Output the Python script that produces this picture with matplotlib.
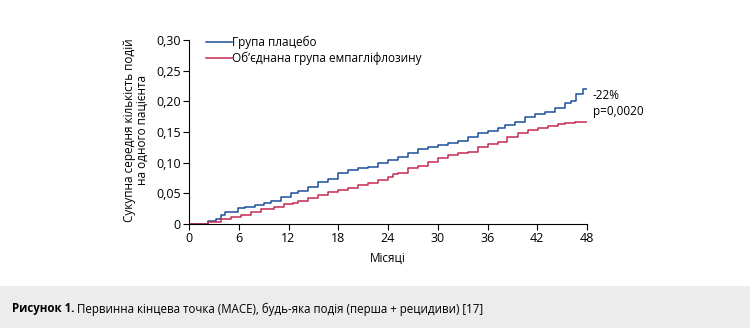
import numpy as np
import matplotlib.pyplot as plt
from matplotlib.patches import Rectangle

plt.rcParams['font.family'] = ['Open Sans', 'DejaVu Sans']

# cumulative mean number of events per patient (step curves)
placebo_months = [0, 1.1, 2.3, 3.3, 3.9, 4.3, 5.1, 5.9, 6.7, 7.9, 9.1, 9.9, 11.1,
                  12.3, 13.1, 14.4, 15.6, 16.8, 18.0, 19.2, 20.4, 21.6, 22.8, 24.0,
                  25.2, 26.4, 27.6, 28.8, 30.0, 31.2, 32.4, 33.7, 34.9, 36.1, 37.3,
                  38.1, 39.3, 40.5, 41.7, 42.9, 44.1, 45.3, 46.1, 46.7, 47.5, 48.0]
placebo_vals = [0, 0, 0.005, 0.009, 0.015, 0.019, 0.020, 0.026, 0.028, 0.031, 0.035,
                0.038, 0.0435, 0.050, 0.054, 0.060, 0.068, 0.073, 0.083, 0.088, 0.091,
                0.0935, 0.100, 0.104, 0.109, 0.116, 0.122, 0.125, 0.129, 0.1326, 0.1354,
                0.1425, 0.148, 0.152, 0.156, 0.1615, 0.167, 0.175, 0.1795, 0.182, 0.189,
                0.197, 0.201, 0.212, 0.2197, 0.2197]

empa_months = [0, 1.1, 2.3, 3.9, 5.1, 6.3, 7.5, 8.7, 10.3, 11.5, 12.5, 13.1, 14.4,
               15.6, 16.8, 18.0, 19.2, 20.4, 21.6, 22.8, 24.0, 24.6, 25.2, 26.4, 27.6,
               28.8, 30.0, 31.2, 32.4, 33.7, 34.9, 36.1, 37.3, 38.3, 39.7, 40.9, 42.1,
               43.3, 44.5, 45.3, 46.5, 48.0]
empa_vals = [0, 0, 0.004, 0.008, 0.011, 0.015, 0.020, 0.024, 0.028, 0.032, 0.035,
             0.0375, 0.042, 0.047, 0.053, 0.0555, 0.059, 0.063, 0.0665, 0.072, 0.077,
             0.0815, 0.0837, 0.091, 0.0946, 0.1016, 0.107, 0.1126, 0.1155, 0.118, 0.125,
             0.1305, 0.134, 0.1425, 0.148, 0.154, 0.156, 0.159, 0.163, 0.164, 0.167,
             0.167]

x_ticks = [0, 6, 12, 18, 24, 30, 36, 42, 48]
y_ticks = [0, 0.05, 0.10, 0.15, 0.20, 0.25, 0.30]
y_ticklabels = ['0', '0,05', '0,10', '0,15', '0,20', '0,25', '0,30']

blue = '#1d4f9c'
red = '#c62a52'

fig = plt.figure(figsize=(7.5, 3.28), dpi=100)
ax = fig.add_axes([0.252, 0.317, 0.5307, 0.561])

ax.step(placebo_months, placebo_vals, where='post', color=blue, lw=1.1,
        label='Група плацебо')
ax.step(empa_months, empa_vals, where='post', color=red, lw=1.1,
        label='Об’єднана група емпагліфлозину')

ax.set_xlim(0, 48)
ax.set_ylim(0, 0.30)
ax.set_xticks(x_ticks)
ax.set_yticks(y_ticks)
ax.set_yticklabels(y_ticklabels)
ax.tick_params(direction='out', length=4, width=0.8, labelsize=9, pad=2)
for s in ['top', 'right']:
    ax.spines[s].set_visible(False)
for s in ['left', 'bottom']:
    ax.spines[s].set_linewidth(0.8)

ax.set_xlabel('Місяці', fontsize=8.5, labelpad=5)
ax.set_ylabel('Сукупна середня кількість подій\nна одного пацієнта', fontsize=8.5,
              linespacing=1.0)
ax.yaxis.set_label_coords(-0.10, 0.51)

ax.legend(loc='upper left', bbox_to_anchor=(0.03, 1.05), frameon=False,
          fontsize=8.5, handlelength=2.2, handletextpad=0.05, labelspacing=0.25,
          borderaxespad=0)

ax.text(48.7, 0.209, '-22%', fontsize=8.5, va='center', ha='left')
ax.text(48.7, 0.183, 'p=0,0020', fontsize=8.5, va='center', ha='left')

# caption band
fig.patches.append(Rectangle((0, 0), 1, 0.128, transform=fig.transFigure,
                             facecolor='#ececec', edgecolor='none', zorder=0))
cap = fig.text(0.016, 0.058, 'Рисунок 1.', fontsize=8.3, fontweight='bold', va='center')
renderer = fig.canvas.get_renderer()
bb = cap.get_window_extent(renderer=renderer).transformed(fig.transFigure.inverted())
fig.text(bb.x1, 0.058, ' Первинна кінцева точка (MACE), будь-яка подія (перша + рецидиви) [17]',
         fontsize=8.3, va='center')

fig.savefig('out.png', dpi=100)
